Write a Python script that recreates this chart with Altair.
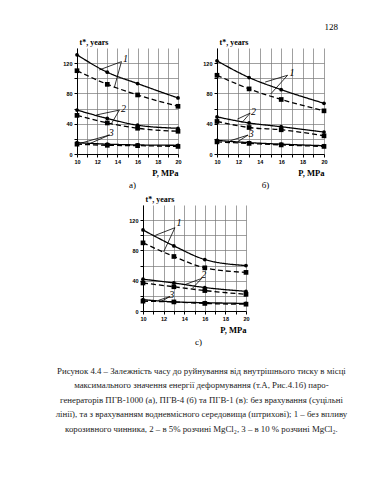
import altair as alt
import pandas as pd

# ---------------- data ----------------
P = [10, 13, 16, 20]

a_1_solid = [131, 108, 93, 74]
a_1_dash = [110, 92, 78, 63]
a_2_solid = [58, 47, 38, 34]
a_2_dash = [51, 41, 34, 30]
a_3_solid = [15, 13, 12, 11.5]
a_3_dash = [13, 11.5, 11, 10]

b_1_solid = [123, 101, 85, 67]
b_1_dash = [104, 86, 72, 57]
b_2_solid = [49, 41, 36, 29]
b_2_dash = [43, 35, 32, 24]
b_3_solid = [18, 15, 13, 11]
b_3_dash = [16, 14, 12, 10]

c_1_solid = [107, 86, 68, 60]
c_1_dash = [90, 72, 57, 51]
c_2_solid = [42, 37, 31, 26]
c_2_dash = [37, 32, 27, 22]
c_3_solid = [15, 12, 11, 10]
c_3_dash = [13, 12, 10, 9]

# annotation labels: (label, x, y) and leader lines (x1, y1, x2, y2) in data units
a_labels = [("1", 14.8, 126), ("2", 14.6, 60), ("3", 13.4, 28)]
a_leaders = [(14.4, 122, 12.2, 111), (14.4, 122, 13.7, 88),
             (14.2, 58, 11.9, 51.5), (14.2, 58, 13.4, 40),
             (13.2, 25, 10.3, 14), (13.2, 25, 11.3, 14)]
b_labels = [("1", 17.0, 107), ("2", 13.4, 56), ("3", 13.2, 27)]
b_leaders = [(16.6, 104, 14.5, 95), (16.6, 104, 15.0, 79),
             (13.1, 54, 11.9, 46), (13.1, 54, 12.3, 41),
             (12.9, 25, 11.25, 17.6), (12.9, 25, 12.0, 16.8)]
c_labels = [("1", 13.5, 116), ("2", 15.9, 47), ("3", 12.8, 21)]
c_leaders = [(13.1, 110, 11.2, 100), (13.1, 110, 12.0, 78),
             (15.7, 43, 14.1, 35), (15.7, 43, 14.8, 30),
             (12.6, 19, 11.5, 14.1), (12.6, 19, 11.8, 12.8)]

x_ticks = list(range(10, 21))
y_ticks = [0, 20, 40, 60, 80, 100, 120]

caption = [
    "Рисунок 4.4 – Залежність часу до руйнування від внутрішнього тиску в місці",
    "максимального значення енергії деформування (т.А, Рис.4.1б) паро-",
    "генераторів ПГВ-1000 (а), ПГВ-4 (б) та ПГВ-1 (в): без врахування (суцільні",
    "лінії), та з врахуванням водневмісного середовища (штрихові); 1 – без впливу",
    "корозивного чинника, 2 – в 5% розчині MgCl₂, 3 – в 10 % розчині MgCl₂.",
]
page_number = "128"

SERIF = "Liberation Serif"
SANS = "Liberation Sans"


def long_df(s1, d1, s2, d2, s3, d3):
    rows = []
    for name, kind, vals in [("1", "solid", s1), ("1", "dashed", d1),
                             ("2", "solid", s2), ("2", "dashed", d2),
                             ("3", "solid", s3), ("3", "dashed", d3)]:
        for p, v in zip(P, vals):
            rows.append({"P": p, "t": v, "series": name, "kind": kind,
                         "key": name + kind})
    return pd.DataFrame(rows)


def panel(df, labels, leaders, width, height, sub, sub_dx):
    xenc = alt.X("P:Q", scale=alt.Scale(domain=[10, 20], nice=False, zero=False),
                 axis=alt.Axis(values=x_ticks,
                               labelExpr="datum.value % 2 == 0 ? datum.label : ''",
                               title="P, MPa", titleX=width, titleY=21,
                               titleAlign="right", titleBaseline="alphabetic",
                               titleFont=SERIF, titleFontSize=8.5,
                               titleFontWeight="bold"))
    yenc = alt.Y("t:Q", scale=alt.Scale(domain=[0, 140], nice=False),
                 axis=alt.Axis(values=y_ticks,
                               labelExpr="datum.value % 40 == 0 ? datum.label : ''",
                               title="t*, years", titleAngle=0, titleX=2,
                               titleY=-4, titleAlign="left",
                               titleBaseline="alphabetic", titleFont=SERIF,
                               titleFontSize=8, titleFontWeight="bold"))
    base = alt.Chart(df).encode(x=xenc, y=yenc)
    lines = base.mark_line(color="black", interpolate="monotone",
                           strokeWidth=1.3).encode(
        detail="key:N",
        strokeDash=alt.StrokeDash("kind:N",
                                  scale=alt.Scale(domain=["solid", "dashed"],
                                                  range=[[1, 0], [5, 3]]),
                                  legend=None))
    points = base.mark_point(filled=True, color="black", opacity=1).encode(
        shape=alt.Shape("kind:N",
                        scale=alt.Scale(domain=["solid", "dashed"],
                                        range=["circle", "square"]),
                        legend=None),
        size=alt.Size("kind:N",
                      scale=alt.Scale(domain=["solid", "dashed"], range=[14, 22]),
                      legend=None),
        detail="key:N")
    ldf = pd.DataFrame(leaders, columns=["P", "t", "P2", "t2"])
    rules = alt.Chart(ldf).mark_rule(color="black", strokeWidth=0.8).encode(
        x=xenc, y=yenc, x2="P2:Q", y2="t2:Q")
    tdf = pd.DataFrame(labels, columns=["label", "P", "t"])
    texts = alt.Chart(tdf).mark_text(font=SERIF, fontStyle="italic",
                                     fontSize=10, color="black").encode(
        x=xenc, y=yenc, text="label:N")
    ch = alt.layer(lines, points, rules, texts).properties(
        width=width, height=height,
        title=alt.TitleParams(sub, orient="bottom", anchor="middle",
                              frame="group", font=SERIF, fontSize=9,
                              fontWeight="normal", offset=4, dx=sub_dx))
    return ch


pa = panel(long_df(a_1_solid, a_1_dash, a_2_solid, a_2_dash, a_3_solid, a_3_dash),
           a_labels, a_leaders, 101, 106, "а)", 5)
pb = panel(long_df(b_1_solid, b_1_dash, b_2_solid, b_2_dash, b_3_solid, b_3_dash),
           b_labels, b_leaders, 107, 106, "б)", -5)
pc = panel(long_df(c_1_solid, c_1_dash, c_2_solid, c_2_dash, c_3_solid, c_3_dash),
           c_labels, c_leaders, 103, 106, "с)", 4)

# page number sits above panel b, right aligned (title of a one-panel wrapper)
pb_wrap = alt.hconcat(pb).properties(
    title=alt.TitleParams(page_number, anchor="end", frame="group",
                          font=SERIF, fontSize=9, fontWeight="normal",
                          dx=121, offset=6))

spacer = alt.Chart(pd.DataFrame({"z": [0]})).mark_point(opacity=0).encode(
    x=alt.value(0), y=alt.value(0)).properties(width=44, height=10)

top = alt.hconcat(pa, pb_wrap, spacing=20)
bottom = alt.hconcat(spacer, pc, spacing=7)

chart = alt.vconcat(top, bottom, spacing=5).properties(
    title=alt.TitleParams(caption, orient="bottom", anchor="middle",
                          font=SERIF, fontSize=8.8, fontWeight="normal",
                          lineHeight=14.5, color="#222", offset=20, dx=1),
    padding={"left": 47, "top": 15, "right": 5, "bottom": 5},
    background="white",
).configure_view(stroke=None).configure_axis(
    domainColor="black", domainWidth=1, tickColor="black", tickSize=3,
    labelFont=SANS, labelFontWeight="bold", labelFontSize=5.5, labelPadding=2,
    labelColor="black", gridColor="#777", gridWidth=0.7, titleColor="black",
    labelFlush=False, labelOverlap=False,
)

chart.save("out.html", embed_options={"renderer": "svg", "actions": False})
